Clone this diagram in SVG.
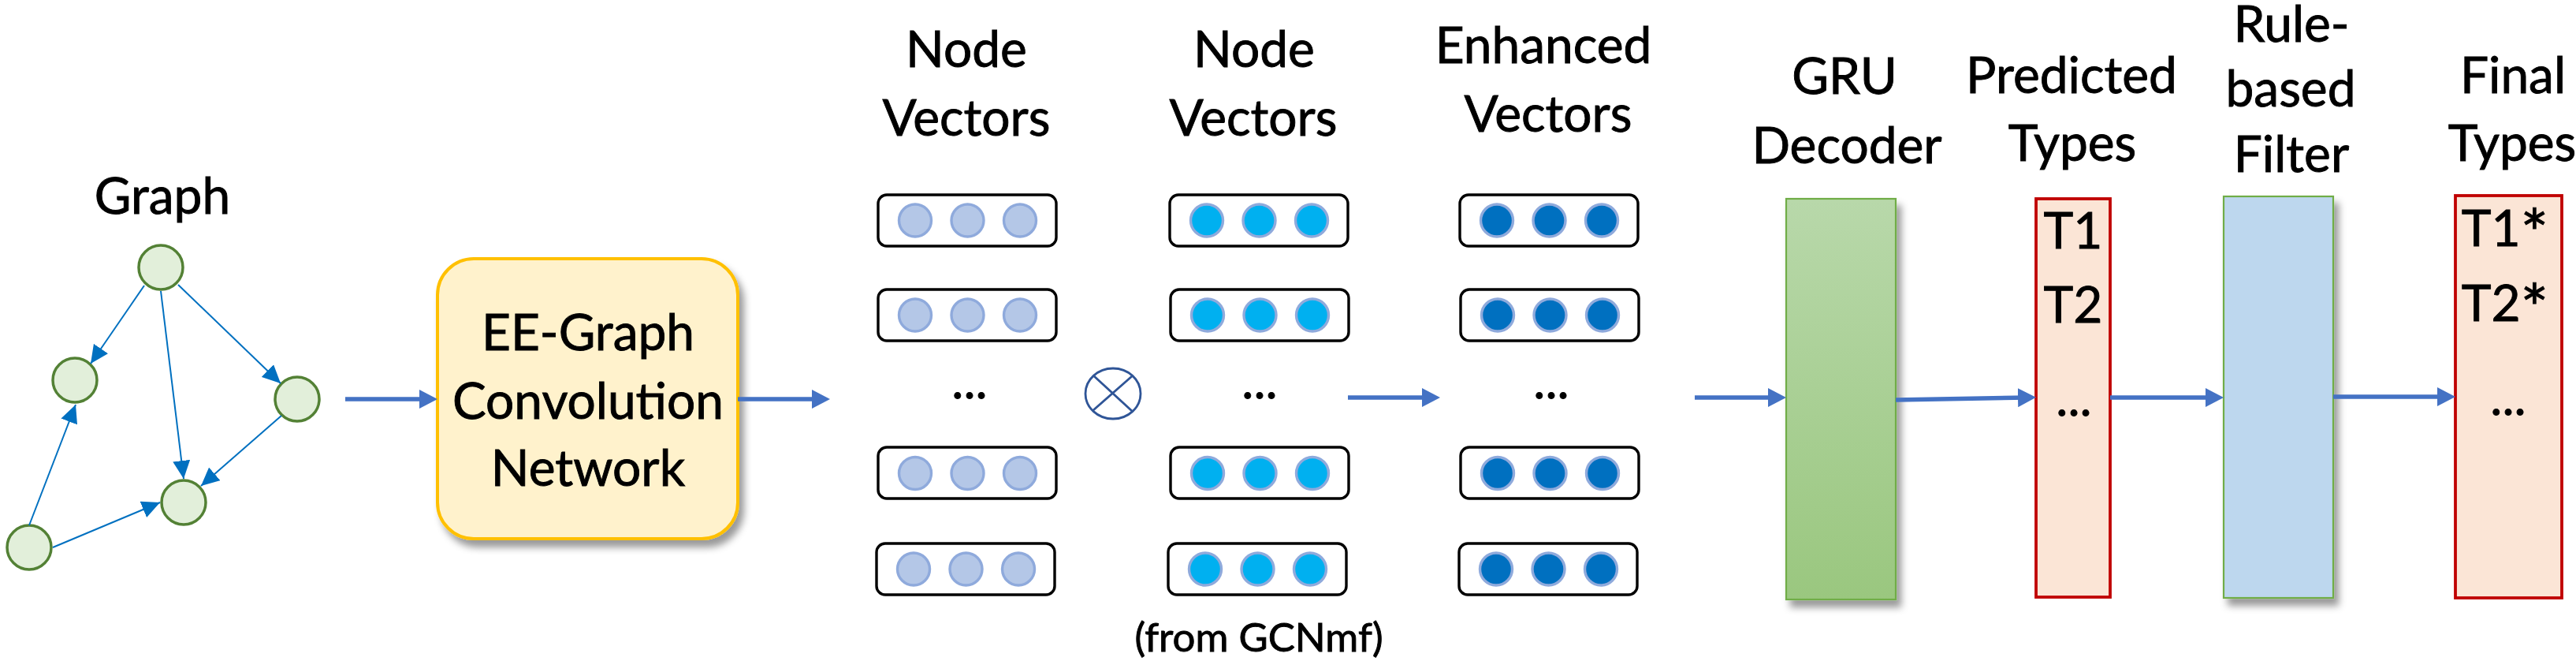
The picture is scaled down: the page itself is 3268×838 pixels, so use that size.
<svg xmlns="http://www.w3.org/2000/svg" width="3268" height="838" viewBox="0 0 3268 838">
<style>
text{font-family:Lato,"Liberation Sans",sans-serif;fill:#000;stroke:#000;stroke-width:0.9}
.lbl{font-size:64px;text-anchor:middle}
.ast{font-size:84px}
.gn{fill:#E2EFDA;stroke:#538135;stroke-width:3.5}
.ge{stroke:#0070C0;stroke-width:2;fill:none;marker-end:url(#ah)}
.ar{stroke:#4472C4;stroke-width:5.5;fill:none;marker-end:url(#ah2)}
.vb{fill:#fff;stroke:#000;stroke-width:3.4}
.c1{fill:#B4C7E7;stroke:#8FAADC;stroke-width:3.4}
.c2{fill:#00B0F0;stroke:#8FAADC;stroke-width:3.4}
.c3{fill:#0070C0;stroke:#8FAADC;stroke-width:3.4}
.tb{fill:#FBE5D6;stroke:#C00000;stroke-width:3.8}
</style>
<defs>
<marker id="ah" viewBox="0 0 23 22" refX="23" refY="11" markerWidth="23" markerHeight="22" markerUnits="userSpaceOnUse" orient="auto"><path d="M0,0 L23,11 L0,22 z" fill="#0070C0"/></marker>
<marker id="ah2" viewBox="0 0 23 24" refX="11" refY="12" markerWidth="23" markerHeight="24" markerUnits="userSpaceOnUse" orient="auto"><path d="M0,0 L23,12 L0,24 z" fill="#4472C4"/></marker>
<filter id="sh" x="-30%" y="-10%" width="160%" height="130%"><feDropShadow dx="6" dy="9" stdDeviation="5" flood-color="#000" flood-opacity="0.4"/></filter>
<linearGradient id="gru" x1="0" y1="0" x2="0" y2="1"><stop offset="0" stop-color="#B8D8AA"/><stop offset="1" stop-color="#9AC77F"/></linearGradient>
</defs>

<g id="graph">
<text class="lbl" x="206" y="271">Graph</text>
<circle class="gn" cx="204" cy="339" r="28"/>
<circle class="gn" cx="95" cy="482" r="28"/>
<circle class="gn" cx="377" cy="506" r="28"/>
<circle class="gn" cx="233" cy="637" r="28"/>
<circle class="gn" cx="37" cy="694" r="28"/>
<g id="graph-edges">
<line class="ge" x1="183" y1="362" x2="115" y2="461"/>
<line class="ge" x1="204" y1="369" x2="233" y2="607"/>
<line class="ge" x1="226" y1="361" x2="356" y2="486"/>
<line class="ge" x1="357" y1="527" x2="255" y2="616"/>
<line class="ge" x1="37" y1="666" x2="96" y2="513"/>
<line class="ge" x1="67" y1="694" x2="203" y2="637"/>
</g>
</g>

<g id="eegcn">
<rect x="555" y="328" width="381" height="355" rx="46" fill="#FFF2CC" stroke="#FFC000" stroke-width="4" filter="url(#sh)"/>
<text class="lbl" x="746" y="444">EE-Graph</text>
<text class="lbl" x="746" y="531">Convolution</text>
<text class="lbl" x="746" y="616">Network</text>
</g>

<g id="nodevec1">
<text class="lbl" x="1226" y="85">Node</text>
<text class="lbl" x="1226" y="172">Vectors</text>
<rect class="vb" x="1114" y="247" width="226" height="65" rx="11"/>
<circle class="c1" cx="1161" cy="279.5" r="20.5"/><circle class="c1" cx="1227.5" cy="279.5" r="20.5"/><circle class="c1" cx="1294" cy="279.5" r="20.5"/>
<rect class="vb" x="1114" y="367" width="226" height="65" rx="11"/>
<circle class="c1" cx="1161" cy="399.5" r="20.5"/><circle class="c1" cx="1227.5" cy="399.5" r="20.5"/><circle class="c1" cx="1294" cy="399.5" r="20.5"/>
<text class="lbl" x="1230" y="505">...</text>
<rect class="vb" x="1114" y="567" width="226" height="65" rx="11"/>
<circle class="c1" cx="1161" cy="600" r="20.5"/><circle class="c1" cx="1227.5" cy="600" r="20.5"/><circle class="c1" cx="1294" cy="600" r="20.5"/>
<rect class="vb" x="1112" y="689" width="226" height="65" rx="11"/>
<circle class="c1" cx="1159" cy="721.5" r="20.5"/><circle class="c1" cx="1225.5" cy="721.5" r="20.5"/><circle class="c1" cx="1292" cy="721.5" r="20.5"/>
</g>

<g id="otimes">
<ellipse cx="1412" cy="499" rx="35" ry="32" fill="none" stroke="#2F5597" stroke-width="2.8"/>
<path d="M1387,476 L1436,521 M1436,477 L1387,520" stroke="#2F5597" stroke-width="2.8" fill="none"/>
</g>

<g id="nodevec2">
<text class="lbl" x="1591" y="85">Node</text>
<text class="lbl" x="1590" y="172">Vectors</text>
<rect class="vb" x="1484" y="247" width="226" height="65" rx="11"/>
<circle class="c2" cx="1531" cy="279.5" r="20.5"/><circle class="c2" cx="1597.5" cy="279.5" r="20.5"/><circle class="c2" cx="1664" cy="279.5" r="20.5"/>
<rect class="vb" x="1485" y="367" width="226" height="65" rx="11"/>
<circle class="c2" cx="1532" cy="399.5" r="20.5"/><circle class="c2" cx="1598.5" cy="399.5" r="20.5"/><circle class="c2" cx="1665" cy="399.5" r="20.5"/>
<text class="lbl" x="1598" y="505">...</text>
<rect class="vb" x="1485" y="567" width="226" height="65" rx="11"/>
<circle class="c2" cx="1532" cy="600" r="20.5"/><circle class="c2" cx="1598.5" cy="600" r="20.5"/><circle class="c2" cx="1665" cy="600" r="20.5"/>
<rect class="vb" x="1482" y="689" width="226" height="65" rx="11"/>
<circle class="c2" cx="1529" cy="721.5" r="20.5"/><circle class="c2" cx="1595.5" cy="721.5" r="20.5"/><circle class="c2" cx="1662" cy="721.5" r="20.5"/>
<text x="1597" y="826" style="font-size:51px;text-anchor:middle">(from GCNmf)</text>
</g>

<g id="enhvec">
<text class="lbl" x="1958" y="80">Enhanced</text>
<text class="lbl" x="1964" y="167">Vectors</text>
<rect class="vb" x="1852" y="247" width="226" height="65" rx="11"/>
<circle class="c3" cx="1899" cy="279.5" r="20.5"/><circle class="c3" cx="1965.5" cy="279.5" r="20.5"/><circle class="c3" cx="2032" cy="279.5" r="20.5"/>
<rect class="vb" x="1853" y="367" width="226" height="65" rx="11"/>
<circle class="c3" cx="1900" cy="399.5" r="20.5"/><circle class="c3" cx="1966.5" cy="399.5" r="20.5"/><circle class="c3" cx="2033" cy="399.5" r="20.5"/>
<text class="lbl" x="1968" y="505">...</text>
<rect class="vb" x="1853" y="567" width="226" height="65" rx="11"/>
<circle class="c3" cx="1900" cy="600" r="20.5"/><circle class="c3" cx="1966.5" cy="600" r="20.5"/><circle class="c3" cx="2033" cy="600" r="20.5"/>
<rect class="vb" x="1851" y="689" width="226" height="65" rx="11"/>
<circle class="c3" cx="1898" cy="721.5" r="20.5"/><circle class="c3" cx="1964.5" cy="721.5" r="20.5"/><circle class="c3" cx="2031" cy="721.5" r="20.5"/>
</g>

<g id="gru">
<text class="lbl" x="2340" y="119">GRU</text>
<text class="lbl" x="2343" y="207">Decoder</text>
<rect x="2266" y="252" width="139" height="508" fill="url(#gru)" stroke="#70AD47" stroke-width="2.2" filter="url(#sh)"/>
</g>

<g id="predicted">
<text class="lbl" x="2628" y="118">Predicted</text>
<text class="lbl" x="2629" y="204">Types</text>
<rect class="tb" x="2583" y="252" width="94" height="505"/>
<text class="lbl" x="2630" y="315">T1</text>
<text class="lbl" x="2630" y="409">T2</text>
<text class="lbl" x="2631" y="527">...</text>
</g>

<g id="filter">
<text class="lbl" x="2907" y="53">Rule-</text>
<text class="lbl" x="2906" y="135">based</text>
<text class="lbl" x="2907" y="218">Filter</text>
<rect x="2821" y="249" width="139" height="509" fill="#BDD7EE" stroke="#70AD47" stroke-width="2.2" filter="url(#sh)"/>
</g>

<g id="final">
<text class="lbl" x="3188" y="118">Final</text>
<text class="lbl" x="3187" y="204">Types</text>
<rect class="tb" x="3115" y="248" width="135" height="510"/>
<text class="lbl" x="3178" y="312">T1<tspan class="ast" dy="14">*</tspan></text>
<text class="lbl" x="3178" y="407">T2<tspan class="ast" dy="14">*</tspan></text>
<text class="lbl" x="3182" y="526">...</text>
</g>

<g id="connectors">
<line class="ar" x1="438" y1="506" x2="543" y2="506"/>
<line class="ar" x1="936" y1="506" x2="1041" y2="506"/>
<line class="ar" x1="1710" y1="504" x2="1815" y2="504"/>
<line class="ar" x1="2150" y1="504" x2="2254" y2="504"/>
<path class="ar" d="M2405,507 L2571,504"/>
<line class="ar" x1="2677" y1="504" x2="2809" y2="504"/>
<line class="ar" x1="2960" y1="503" x2="3103" y2="503"/>
</g>
</svg>
